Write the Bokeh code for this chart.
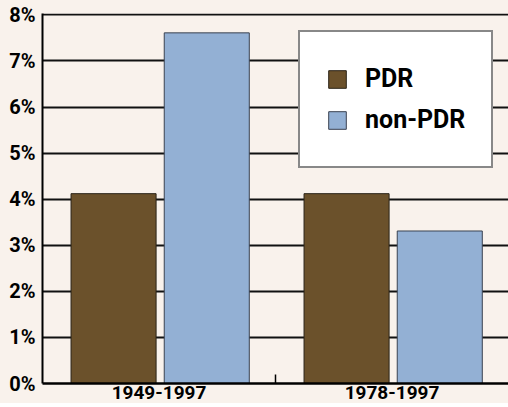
from bokeh.plotting import figure
from bokeh.models import ColumnDataSource, Range1d, FixedTicker, Legend, LegendItem, CustomJSTickFormatter
from bokeh.transform import dodge
from bokeh.embed import file_html
from bokeh.resources import INLINE

# data
periods = ["1949-1997", "1978-1997"]
pdr = [4.12, 4.12]
non_pdr = [7.61, 3.31]
y_ticks = [0, 1, 2, 3, 4, 5, 6, 7, 8]

x_pos = [i + 0.5 for i in range(len(periods))]
src = ColumnDataSource(dict(x=x_pos, pdr=pdr, non_pdr=non_pdr))

BG = "#F9F2EC"
FONT = "Roboto"

p = figure(width=512, height=407, output_backend="svg", toolbar_location=None,
           x_range=Range1d(0, len(periods)), y_range=Range1d(0, 8.03),
           min_border_left=46, min_border_right=0, min_border_top=17, min_border_bottom=20,
           background_fill_color=BG, border_fill_color=BG)
p.margin = (-4, -8, -8, -4)
p.outline_line_color = None

r1 = p.vbar(x=dodge("x", -0.195, range=p.x_range), top="pdr", width=0.365, source=src,
            fill_color="#6B512B", line_color="#2A2318", line_width=1)
r2 = p.vbar(x=dodge("x", 0.205, range=p.x_range), top="non_pdr", width=0.365, source=src,
            fill_color="#93B0D4", line_color="#3A4250", line_width=1)

# y axis
p.yaxis.ticker = FixedTicker(ticks=y_ticks)
p.yaxis.formatter = CustomJSTickFormatter(code="return tick.toFixed(0) + '%';")
p.yaxis.major_tick_out = 0
p.yaxis.major_tick_in = 0
p.yaxis.minor_tick_out = 0
p.yaxis.minor_tick_in = 0
p.yaxis.axis_line_color = "black"
p.yaxis.axis_line_width = 2
p.yaxis.major_label_text_font = FONT
p.yaxis.major_label_text_font_style = "bold"
p.yaxis.major_label_text_font_size = "20px"
p.yaxis.major_label_text_color = "black"
p.yaxis.major_label_standoff = 7

# x axis
labels = {x: lab for x, lab in zip(x_pos, periods)}
p.xaxis.ticker = FixedTicker(ticks=x_pos, minor_ticks=[1])
p.xaxis.major_label_overrides = labels
p.xaxis.major_tick_out = 0
p.xaxis.major_tick_in = 0
p.xaxis.minor_tick_out = 0
p.xaxis.minor_tick_in = 9
p.xaxis.minor_tick_line_color = "black"
p.xaxis.minor_tick_line_width = 1.5
p.xaxis.axis_line_color = "black"
p.xaxis.axis_line_width = 2.5
p.xaxis.major_label_text_font = FONT
p.xaxis.major_label_text_font_style = "bold"
p.xaxis.major_label_text_font_size = "19px"
p.xaxis.major_label_text_color = "black"
p.xaxis.major_label_standoff = 2

p.xgrid.grid_line_color = None
p.ygrid.ticker = FixedTicker(ticks=y_ticks)
p.ygrid.grid_line_color = "#111111"
p.ygrid.grid_line_width = 2

legend = Legend(items=[LegendItem(label="PDR", renderers=[r1]),
                       LegendItem(label="non-PDR", renderers=[r2])],
                location=(256, 215))
legend.background_fill_color = "white"
legend.background_fill_alpha = 1
legend.border_line_color = "#111111"
legend.border_line_width = 2
legend.padding = 26
legend.spacing = -3
legend.glyph_width = 22
legend.glyph_height = 22
legend.label_height = 41
legend.label_standoff = 17
legend.label_text_font = FONT
legend.label_text_font_style = "bold"
legend.label_text_font_size = "25px"
legend.label_text_color = "black"
legend.margin = 0
p.add_layout(legend, "center")

open("out.html", "w").write(file_html(p, INLINE))
